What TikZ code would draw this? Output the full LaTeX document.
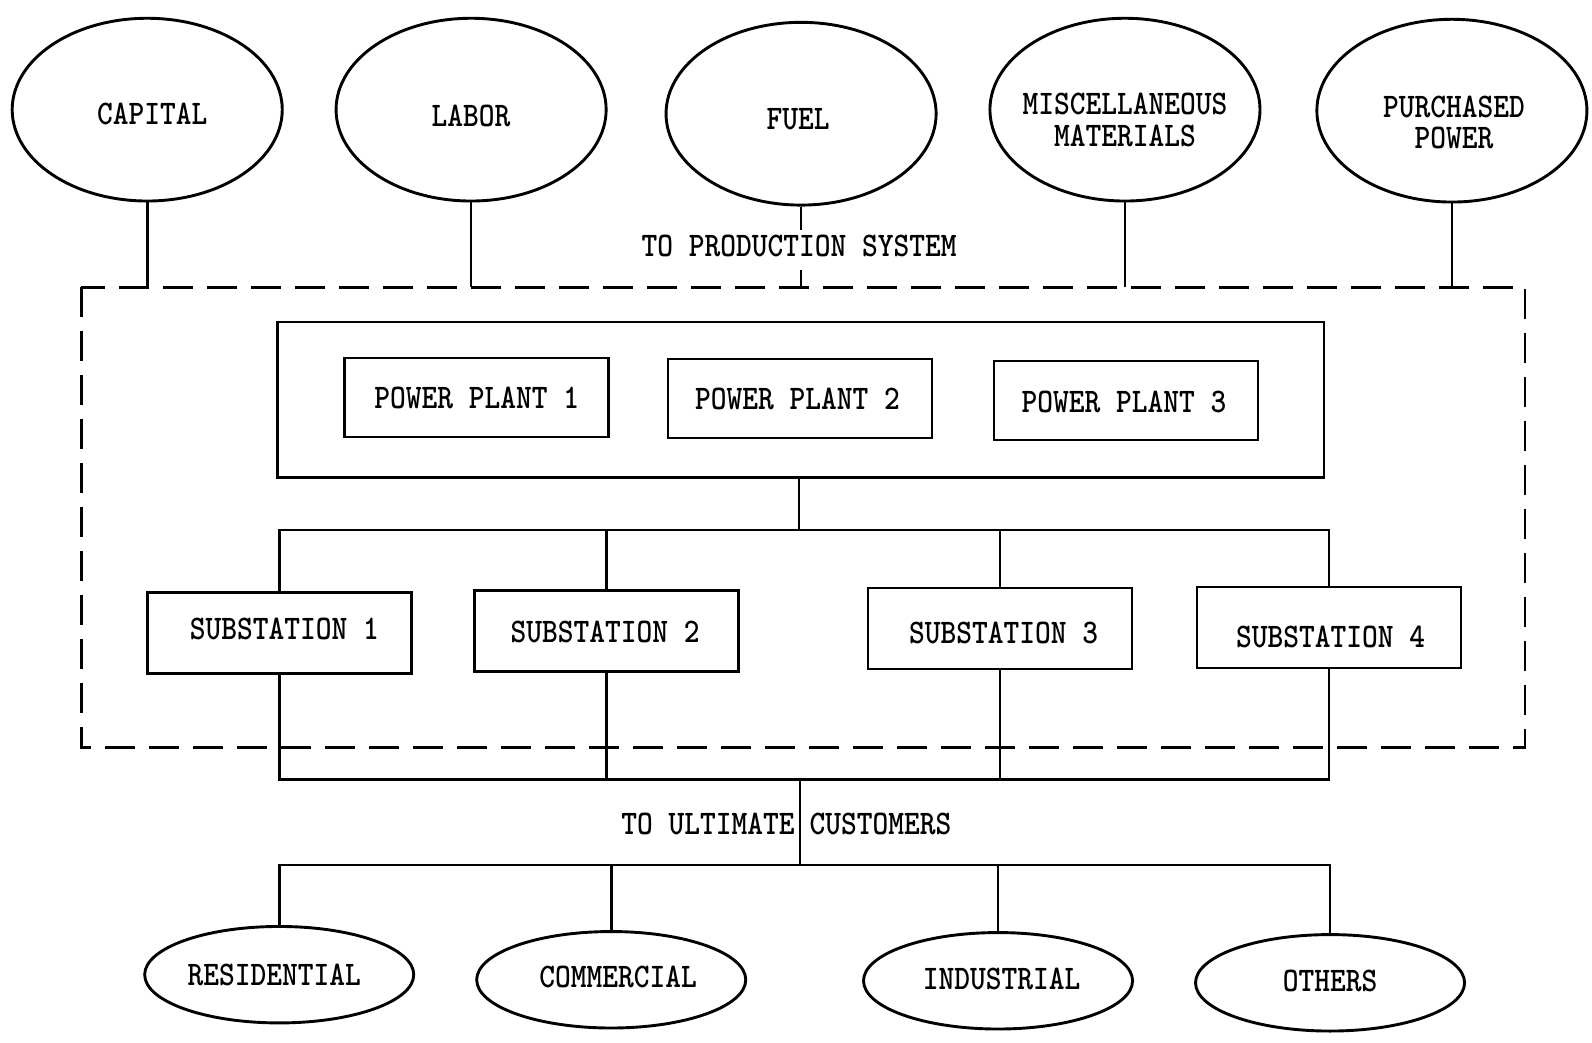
\documentclass[tikz,border=0pt]{standalone}
\usepackage{graphicx}
\usetikzlibrary{shapes.geometric}
\newcommand\tword[1]{\scalebox{1}[1.15]{\def\arraystretch{0.88}\begin{tabular}{@{}c@{}}#1\end{tabular}}}
% #1 horizontal space (twice the shift), #2 vertical raise, #3 text
\newcommand\lab[3]{\makebox[0pt]{\hspace*{#1}\smash{\raisebox{#2}{\tword{#3}}}}}
\begin{document}
\begin{tikzpicture}[x=0.50765pt,y=-0.50765pt,
  every node/.style={font=\fontsize{15}{15.5}\selectfont\ttfamily\bfseries, align=center},
  ln/.style={line width=1.35pt, line join=miter},
  bubble/.style={ellipse, draw, line width=1.45pt, inner sep=0pt, minimum width={266*0.50765pt}, minimum height={180*0.50765pt}},
  leaf/.style={ellipse, draw, line width=1.45pt, inner sep=0pt, minimum width={265*0.50765pt}, minimum height={95*0.50765pt}},
  plantbox/.style={rectangle, draw, line width=1.35pt, inner sep=0pt, minimum width={260*0.50765pt}, minimum height={78*0.50765pt}},
  subbox/.style={rectangle, draw, line width=1.35pt, inner sep=0pt, minimum width={260*0.50765pt}, minimum height={80*0.50765pt}},
  boundary/.style={line width=1.35pt, dash pattern=on 15pt off 7pt}
]
\useasboundingbox (0,0) rectangle (1568,1027);

% input bubbles
\node[bubble] (cap) at (145,108) {\lab{5pt}{-8.5pt}{CAPITAL}};
\node[bubble] (lab) at (464,108) {\lab{0pt}{-9.5pt}{LABOR}};
\node[bubble] (fuel) at (789,112) {\lab{-3pt}{-9pt}{FUEL}};
\node[bubble] (misc) at (1108,108) {\lab{0pt}{-11.5pt}{MISCELLANEOUS\\MATERIALS}};
\node[bubble] (pur) at (1430,109) {\lab{2pt}{-12.2pt}{PURCHASED\\POWER}};

% production system boundary
\coordinate (dtl) at (80,283);
\coordinate (dbr) at (1502,736);
\draw[boundary] (dtl) rectangle (dbr);

\node[inner sep=2pt] (tps) at (787,246) {\tword{TO PRODUCTION SYSTEM}};

\draw[ln] (cap.south) -- (cap.south |- dtl);
\draw[ln] (lab.south) -- (lab.south |- dtl);
\draw[ln] (fuel.south) -- (fuel.south |- tps.north);
\draw[ln] (fuel.south |- tps.south) -- (fuel.south |- dtl);
\draw[ln] (misc.south) -- (misc.south |- dtl);
\draw[ln] (pur.south) -- (pur.south |- dtl);

% power plants
\node[rectangle, draw, line width=1.35pt, minimum width={1031*0.50765pt}, minimum height={153*0.50765pt}] (ppbox) at (788.5,393.5) {};
\node[plantbox] (pp1) at (469.5,391.5) {\lab{0pt}{-6.5pt}{POWER PLANT 1}};
\node[plantbox] (pp2) at (788,392.5) {\lab{-2.5pt}{-6.5pt}{POWER PLANT 2}};
\node[plantbox] (pp3) at (1109,394.5) {\lab{-2pt}{-7.2pt}{POWER PLANT 3}};

% substations
\node[subbox] (s1) at (275.5,623.5) {\lab{4.6pt}{-4.2pt}{SUBSTATION 1}};
\node[subbox] (s2) at (597.5,621.5) {\lab{-1.5pt}{-6.5pt}{SUBSTATION 2}};
\node[subbox] (s3) at (985,619) {\lab{3.6pt}{-8.5pt}{SUBSTATION 3}};
\node[subbox] (s4) at (1309,618) {\lab{1.5pt}{-10.8pt}{SUBSTATION 4}};

\coordinate (busT) at (787,522);
\draw[ln] (ppbox.south -| busT) -- (busT);
\draw[ln] (s1.north) -- (s1.north |- busT) -- (s4.north |- busT) -- (s4.north);
\draw[ln] (s2.north) -- (s2.north |- busT);
\draw[ln] (s3.north) -- (s3.north |- busT);

\coordinate (busB) at (788,768);
\coordinate (busC) at (788,852);
\draw[ln] (s1.south) -- (s1.south |- busB) -- (s4.south |- busB) -- (s4.south);
\draw[ln] (s2.south) -- (s2.south |- busB);
\draw[ln] (s3.south) -- (s3.south |- busB);
\draw[ln] (busB) -- (busC);

\node[anchor=east, inner sep=0pt] (tu1) at (783,816) {\tword{TO ULTIMATE}};
\node[anchor=west, inner sep=0pt] (tu2) at (797,816) {\tword{CUSTOMERS}};

% customers
\node[leaf] (res) at (275,960) {\lab{-5pt}{-6.5pt}{RESIDENTIAL}};
\node[leaf] (com) at (602,965) {\lab{7pt}{-5pt}{COMMERCIAL}};
\node[leaf] (ind) at (983,966) {\lab{3.6pt}{-5.5pt}{INDUSTRIAL}};
\node[leaf] (oth) at (1310,968) {\lab{0pt}{-5.5pt}{OTHERS}};

\draw[ln] (res.north) -- (res.north |- busC) -- (oth.north |- busC) -- (oth.north);
\draw[ln] (com.north) -- (com.north |- busC);
\draw[ln] (ind.north) -- (ind.north |- busC);
\end{tikzpicture}
\end{document}
